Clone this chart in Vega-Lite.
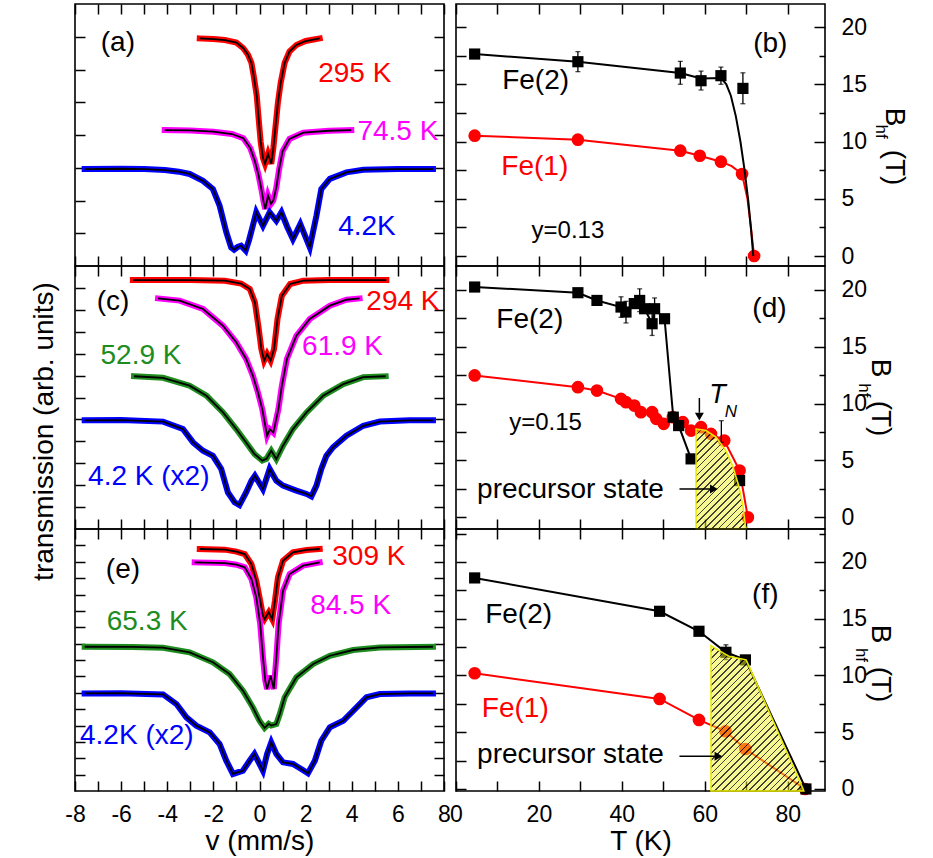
{
"$schema": "https://vega.github.io/schema/vega-lite/v6.json",
"padding": {"left": 29, "top": 2, "right": 5, "bottom": 2},
"config": {
  "font": "Liberation Sans",
  "view": {"stroke": "black", "strokeWidth": 1.6},
  "axis": {"domain": false, "grid": false, "tickSize": -10, "tickWidth": 1.5, "tickColor": "black", "labelFontSize": 23, "labelColor": "black", "labelPadding": 22, "labelOverlap": false, "labelFlush": false, "titleFontSize": 28, "titleFontWeight": "normal", "titleColor": "black", "titlePadding": 1}
},
"columns": 2,
"spacing": {"row": 0, "column": 12},
"bounds": "flush",
"resolve": {"scale": {"color": "independent", "shape": "independent"}},
"datasets": {
  "spec_a": [
    {"s":"r","v":-2.59,"y":6.95},{"s":"r","v":-2.0,"y":6.93},{"s":"r","v":-1.5,"y":6.9},{"s":"r","v":-1.0,"y":6.82},{"s":"r","v":-0.7,"y":6.65},{"s":"r","v":-0.5,"y":6.45},{"s":"r","v":-0.35,"y":6.2},{"s":"r","v":-0.25,"y":5.8},{"s":"r","v":-0.12,"y":5.2},{"s":"r","v":-0.05,"y":4.6},{"s":"r","v":0.05,"y":3.8},{"s":"r","v":0.15,"y":3.3},{"s":"r","v":0.24,"y":3.12},{"s":"r","v":0.37,"y":3.42},{"s":"r","v":0.51,"y":3.12},{"s":"r","v":0.6,"y":3.6},{"s":"r","v":0.7,"y":4.3},{"s":"r","v":0.8,"y":5.0},{"s":"r","v":0.92,"y":5.6},{"s":"r","v":1.09,"y":6.2},{"s":"r","v":1.3,"y":6.55},{"s":"r","v":1.6,"y":6.75},{"s":"r","v":2.0,"y":6.87},{"s":"r","v":2.61,"y":6.95},
    {"s":"m","v":-4.11,"y":4.15},{"s":"m","v":-3.0,"y":4.14},{"s":"m","v":-2.0,"y":4.1},{"s":"m","v":-1.2,"y":4.03},{"s":"m","v":-0.7,"y":3.9},{"s":"m","v":-0.4,"y":3.6},{"s":"m","v":-0.2,"y":3.2},{"s":"m","v":-0.05,"y":2.8},{"s":"m","v":0.08,"y":2.35},{"s":"m","v":0.18,"y":1.95},{"s":"m","v":0.25,"y":1.74},{"s":"m","v":0.37,"y":2.15},{"s":"m","v":0.5,"y":1.9},{"s":"m","v":0.6,"y":2.0},{"s":"m","v":0.73,"y":2.4},{"s":"m","v":0.85,"y":2.95},{"s":"m","v":1.0,"y":3.5},{"s":"m","v":1.3,"y":3.88},{"s":"m","v":1.9,"y":4.07},{"s":"m","v":3.0,"y":4.13},{"s":"m","v":3.98,"y":4.15},
    {"s":"b","v":-7.58,"y":2.96},{"s":"b","v":-6.0,"y":2.97},{"s":"b","v":-5.0,"y":2.96},{"s":"b","v":-4.1,"y":2.93},{"s":"b","v":-3.5,"y":2.88},{"s":"b","v":-3.03,"y":2.81},{"s":"b","v":-2.45,"y":2.6},{"s":"b","v":-2.02,"y":2.35},{"s":"b","v":-1.73,"y":1.84},{"s":"b","v":-1.44,"y":1.03},{"s":"b","v":-1.23,"y":0.57},{"s":"b","v":-1.1,"y":0.5},{"s":"b","v":-0.95,"y":0.58},{"s":"b","v":-0.8,"y":0.62},{"s":"b","v":-0.6,"y":0.47},{"s":"b","v":-0.45,"y":0.8},{"s":"b","v":-0.29,"y":1.23},{"s":"b","v":-0.14,"y":1.64},{"s":"b","v":0.15,"y":1.23},{"s":"b","v":0.44,"y":1.64},{"s":"b","v":0.73,"y":1.38},{"s":"b","v":0.95,"y":1.64},{"s":"b","v":1.2,"y":1.2},{"s":"b","v":1.45,"y":0.82},{"s":"b","v":1.77,"y":1.28},{"s":"b","v":2.18,"y":0.57},{"s":"b","v":2.47,"y":1.54},{"s":"b","v":2.68,"y":2.35},{"s":"b","v":3.05,"y":2.66},{"s":"b","v":3.77,"y":2.86},{"s":"b","v":4.5,"y":2.94},{"s":"b","v":6.0,"y":2.96},{"s":"b","v":7.52,"y":2.96}
  ],
  "spec_c": [
    {"s":"r","v":-5.49,"y":11.36},{"s":"r","v":-3.0,"y":11.36},{"s":"r","v":-1.5,"y":11.33},{"s":"r","v":-0.8,"y":11.2},{"s":"r","v":-0.42,"y":10.95},{"s":"r","v":-0.2,"y":10.34},{"s":"r","v":-0.05,"y":9.27},{"s":"r","v":0.08,"y":8.21},{"s":"r","v":0.2,"y":7.68},{"s":"r","v":0.33,"y":7.98},{"s":"r","v":0.48,"y":7.68},{"s":"r","v":0.63,"y":8.21},{"s":"r","v":0.78,"y":9.58},{"s":"r","v":0.97,"y":10.64},{"s":"r","v":1.33,"y":11.18},{"s":"r","v":1.9,"y":11.33},{"s":"r","v":3.0,"y":11.36},{"s":"r","v":5.5,"y":11.36},
    {"s":"m","v":-4.4,"y":10.52},{"s":"m","v":-3.46,"y":10.42},{"s":"m","v":-2.45,"y":10.04},{"s":"m","v":-1.58,"y":9.27},{"s":"m","v":-1.01,"y":8.52},{"s":"m","v":-0.58,"y":7.76},{"s":"m","v":-0.29,"y":7.0},{"s":"m","v":-0.07,"y":6.24},{"s":"m","v":0.12,"y":5.47},{"s":"m","v":0.25,"y":4.71},{"s":"m","v":0.33,"y":4.26},{"s":"m","v":0.45,"y":4.55},{"s":"m","v":0.6,"y":4.4},{"s":"m","v":0.82,"y":5.47},{"s":"m","v":0.97,"y":6.54},{"s":"m","v":1.19,"y":7.76},{"s":"m","v":1.6,"y":8.82},{"s":"m","v":2.18,"y":9.58},{"s":"m","v":3.05,"y":10.19},{"s":"m","v":3.77,"y":10.46},{"s":"m","v":4.34,"y":10.52},
    {"s":"g","v":-5.44,"y":6.97},{"s":"g","v":-4.18,"y":6.9},{"s":"g","v":-3.03,"y":6.54},{"s":"g","v":-2.3,"y":6.08},{"s":"g","v":-1.58,"y":5.32},{"s":"g","v":-1.01,"y":4.56},{"s":"g","v":-0.58,"y":3.95},{"s":"g","v":-0.22,"y":3.42},{"s":"g","v":0.12,"y":3.12},{"s":"g","v":0.3,"y":3.2},{"s":"g","v":0.51,"y":3.57},{"s":"g","v":0.73,"y":3.19},{"s":"g","v":1.02,"y":3.8},{"s":"g","v":1.45,"y":4.56},{"s":"g","v":2.04,"y":5.32},{"s":"g","v":2.76,"y":6.08},{"s":"g","v":3.63,"y":6.61},{"s":"g","v":4.5,"y":6.93},{"s":"g","v":5.47,"y":6.97},
    {"s":"b","v":-7.58,"y":4.96},{"s":"b","v":-6.0,"y":4.97},{"s":"b","v":-4.18,"y":4.9},{"s":"b","v":-3.32,"y":4.56},{"s":"b","v":-2.88,"y":3.95},{"s":"b","v":-2.45,"y":3.57},{"s":"b","v":-2.02,"y":3.34},{"s":"b","v":-1.66,"y":2.74},{"s":"b","v":-1.37,"y":1.67},{"s":"b","v":-1.08,"y":1.22},{"s":"b","v":-0.87,"y":1.09},{"s":"b","v":-0.58,"y":1.67},{"s":"b","v":-0.35,"y":2.2},{"s":"b","v":-0.2,"y":2.43},{"s":"b","v":0.15,"y":1.82},{"s":"b","v":0.44,"y":2.74},{"s":"b","v":0.73,"y":2.2},{"s":"b","v":1.02,"y":1.98},{"s":"b","v":1.6,"y":1.75},{"s":"b","v":2.04,"y":1.6},{"s":"b","v":2.25,"y":1.49},{"s":"b","v":2.47,"y":1.98},{"s":"b","v":2.68,"y":2.74},{"s":"b","v":2.9,"y":3.34},{"s":"b","v":3.19,"y":3.73},{"s":"b","v":3.77,"y":4.26},{"s":"b","v":4.5,"y":4.71},{"s":"b","v":5.22,"y":4.9},{"s":"b","v":6.5,"y":4.96},{"s":"b","v":7.52,"y":4.96}
  ],
  "spec_e": [
    {"s":"r","v":-2.59,"y":14.78},{"s":"r","v":-1.5,"y":14.74},{"s":"r","v":-1.0,"y":14.62},{"s":"r","v":-0.64,"y":14.47},{"s":"r","v":-0.35,"y":13.86},{"s":"r","v":-0.14,"y":12.84},{"s":"r","v":0.03,"y":11.62},{"s":"r","v":0.15,"y":10.7},{"s":"r","v":0.22,"y":10.5},{"s":"r","v":0.4,"y":10.91},{"s":"r","v":0.55,"y":10.5},{"s":"r","v":0.67,"y":11.62},{"s":"r","v":0.8,"y":13.05},{"s":"r","v":1.02,"y":14.06},{"s":"r","v":1.45,"y":14.58},{"s":"r","v":2.04,"y":14.72},{"s":"r","v":2.61,"y":14.78},
    {"s":"m","v":-2.81,"y":13.96},{"s":"m","v":-1.5,"y":13.92},{"s":"m","v":-1.0,"y":13.82},{"s":"m","v":-0.64,"y":13.66},{"s":"m","v":-0.35,"y":12.95},{"s":"m","v":-0.14,"y":11.83},{"s":"m","v":0.03,"y":10.2},{"s":"m","v":0.15,"y":8.16},{"s":"m","v":0.25,"y":6.74},{"s":"m","v":0.33,"y":6.23},{"s":"m","v":0.48,"y":7.04},{"s":"m","v":0.62,"y":6.23},{"s":"m","v":0.73,"y":8.16},{"s":"m","v":0.83,"y":10.2},{"s":"m","v":1.02,"y":12.23},{"s":"m","v":1.31,"y":13.25},{"s":"m","v":1.89,"y":13.76},{"s":"m","v":2.61,"y":13.96},
    {"s":"g","v":-7.58,"y":8.81},{"s":"g","v":-5.5,"y":8.8},{"s":"g","v":-4.18,"y":8.75},{"s":"g","v":-3.03,"y":8.47},{"s":"g","v":-2.02,"y":7.86},{"s":"g","v":-1.3,"y":7.15},{"s":"g","v":-0.72,"y":6.13},{"s":"g","v":-0.29,"y":5.11},{"s":"g","v":0.0,"y":4.29},{"s":"g","v":0.22,"y":3.85},{"s":"g","v":0.4,"y":4.1},{"s":"g","v":0.51,"y":4.0},{"s":"g","v":0.73,"y":4.09},{"s":"g","v":0.88,"y":4.7},{"s":"g","v":1.09,"y":5.72},{"s":"g","v":1.6,"y":6.94},{"s":"g","v":2.33,"y":7.76},{"s":"g","v":3.05,"y":8.26},{"s":"g","v":4.06,"y":8.61},{"s":"g","v":5.22,"y":8.77},{"s":"g","v":7.52,"y":8.81},
    {"s":"b","v":-7.58,"y":5.96},{"s":"b","v":-6.0,"y":5.97},{"s":"b","v":-4.18,"y":5.9},{"s":"b","v":-3.6,"y":5.31},{"s":"b","v":-3.17,"y":4.5},{"s":"b","v":-2.74,"y":3.99},{"s":"b","v":-2.16,"y":3.58},{"s":"b","v":-1.73,"y":2.87},{"s":"b","v":-1.44,"y":1.85},{"s":"b","v":-1.15,"y":1.04},{"s":"b","v":-0.72,"y":1.24},{"s":"b","v":-0.43,"y":1.85},{"s":"b","v":-0.22,"y":2.26},{"s":"b","v":0.0,"y":1.65},{"s":"b","v":0.15,"y":1.24},{"s":"b","v":0.33,"y":2.26},{"s":"b","v":0.51,"y":2.97},{"s":"b","v":0.73,"y":2.26},{"s":"b","v":1.02,"y":1.75},{"s":"b","v":1.45,"y":1.65},{"s":"b","v":1.81,"y":1.34},{"s":"b","v":2.1,"y":1.08},{"s":"b","v":2.4,"y":1.85},{"s":"b","v":2.68,"y":3.07},{"s":"b","v":3.05,"y":3.89},{"s":"b","v":3.63,"y":4.29},{"s":"b","v":4.06,"y":4.9},{"s":"b","v":4.64,"y":5.72},{"s":"b","v":5.22,"y":5.92},{"s":"b","v":6.5,"y":5.96},{"s":"b","v":7.52,"y":5.96}
  ],
  "lab_a": [{"v":-6.14,"y":6.81,"text":"(a)","s":"k"},{"v":4.13,"y":5.86,"text":"295 K","s":"r"},{"v":6.0,"y":4.1,"text":"74.5 K","s":"m"},{"v":4.66,"y":1.19,"text":"4.2K","s":"b"}],
  "lab_c": [{"v":-6.35,"y":10.36,"text":"(c)","s":"k"},{"v":6.22,"y":10.36,"text":"294 K","s":"r"},{"v":3.6,"y":8.3,"text":"61.9 K","s":"m"},{"v":-5.14,"y":7.9,"text":"52.9 K","s":"g"},{"v":-4.8,"y":2.37,"text":"4.2 K (x2)","s":"b"}],
  "lab_e": [{"v":-5.92,"y":13.5,"text":"(e)","s":"k"},{"v":4.74,"y":14.32,"text":"309 K","s":"r"},{"v":3.95,"y":11.3,"text":"84.5 K","s":"m"},{"v":-4.87,"y":10.3,"text":"65.3 K","s":"g"},{"v":-5.32,"y":3.38,"text":"4.2K (x2)","s":"b"}],
  "fit_b": [
    {"site":1,"T":4.5,"B":10.51},{"site":1,"T":29.4,"B":10.16},{"site":1,"T":54.1,"B":9.2},{"site":1,"T":58.8,"B":8.76},{"site":1,"T":63.9,"B":8.24},{"site":1,"T":66.5,"B":7.85},{"site":1,"T":69.0,"B":7.16},{"site":1,"T":70.3,"B":5.0},{"site":1,"T":71.1,"B":2.6},{"site":1,"T":71.9,"B":0.0},
    {"site":2,"T":4.5,"B":17.64},{"site":2,"T":29.4,"B":16.97},{"site":2,"T":54.1,"B":15.98},{"site":2,"T":59.1,"B":15.5},{"site":2,"T":63.9,"B":15.55},{"site":2,"T":65.2,"B":15.0},{"site":2,"T":66.3,"B":14.0},{"site":2,"T":67.5,"B":12.2},{"site":2,"T":68.6,"B":10.0},{"site":2,"T":69.6,"B":7.5},{"site":2,"T":70.5,"B":4.8},{"site":2,"T":71.2,"B":2.2},{"site":2,"T":71.7,"B":0.0}
  ],
  "pts_b": [
    {"site":1,"T":4.5,"B":10.51},{"site":1,"T":29.4,"B":10.16},{"site":1,"T":54.1,"B":9.2},{"site":1,"T":58.8,"B":8.76},{"site":1,"T":63.9,"B":8.24},{"site":1,"T":69.0,"B":7.16},{"site":1,"T":71.9,"B":0.0},
    {"site":2,"T":4.5,"B":17.64},{"site":2,"T":29.4,"B":16.97},{"site":2,"T":54.1,"B":15.98},{"site":2,"T":59.1,"B":15.31},{"site":2,"T":63.9,"B":15.75},{"site":2,"T":69.2,"B":14.64}
  ],
  "err_b": [{"T":29.4,"lo":16.1,"hi":17.85},{"T":54.1,"lo":15.0,"hi":17.0},{"T":59.1,"lo":14.5,"hi":16.15},{"T":63.9,"lo":15.0,"hi":16.5},{"T":69.2,"lo":13.3,"hi":16.0}],
  "txt_b": [{"T":75.8,"B":18.56,"text":"(b)","s":"k"},{"T":19.2,"B":15.3,"text":"Fe(2)","s":"k"},{"T":19.0,"B":7.77,"text":"Fe(1)","s":"r"}],
  "note_b": [{"T":27.0,"B":2.21,"text":"y=0.13"}],
  "hf_b": [{"T":102.6,"B":10.87,"text":"hf"}],
  "fe_d": [
    {"site":1,"T":4.5,"B":12.48},{"site":1,"T":29.4,"B":11.45},{"site":1,"T":34.0,"B":11.15},{"site":1,"T":39.8,"B":10.42},{"site":1,"T":41.0,"B":10.13},{"site":1,"T":43.0,"B":9.83},{"site":1,"T":44.6,"B":9.25},{"site":1,"T":47.3,"B":9.25},{"site":1,"T":48.3,"B":8.66},{"site":1,"T":50.1,"B":8.22},{"site":1,"T":52.3,"B":8.81},{"site":1,"T":54.7,"B":8.37},{"site":1,"T":56.7,"B":7.63},{"site":1,"T":59.1,"B":7.93},{"site":1,"T":61.5,"B":7.34},{"site":1,"T":64.7,"B":6.75},{"site":1,"T":68.4,"B":4.11},{"site":1,"T":70.4,"B":0.0},
    {"site":2,"T":4.5,"B":20.26},{"site":2,"T":29.4,"B":19.76},{"site":2,"T":34.0,"B":19.08},{"site":2,"T":39.8,"B":18.5},{"site":2,"T":41.0,"B":18.06},{"site":2,"T":43.0,"B":18.8},{"site":2,"T":44.3,"B":19.08},{"site":2,"T":45.5,"B":18.35},{"site":2,"T":47.3,"B":17.03},{"site":2,"T":47.9,"B":18.35},{"site":2,"T":50.3,"B":17.47},{"site":2,"T":52.4,"B":8.81},{"site":2,"T":53.7,"B":8.07},{"site":2,"T":56.7,"B":5.14},{"site":2,"T":68.4,"B":3.23}
  ],
  "err_d": [{"T":39.8,"lo":17.6,"hi":19.4},{"T":41.0,"lo":17.1,"hi":19.0},{"T":44.3,"lo":18.1,"hi":20.1},{"T":47.3,"lo":16.0,"hi":18.0},{"T":47.9,"lo":17.4,"hi":19.3},{"T":64.0,"lo":6.6,"hi":8.5}],
  "hatch_d": [{"T":57.9,"B":7.78},{"T":60.3,"B":7.63},{"T":62.7,"B":7.05},{"T":65.1,"B":5.87},{"T":66.7,"B":4.55},{"T":68.2,"B":2.78},{"T":69.2,"B":1.02},{"T":69.8,"B":-0.74},{"T":70.0,"B":-1.03}],
  "txt_d": [{"T":75.6,"B":18.35,"text":"(d)","s":"k"},{"T":17.8,"B":17.32,"text":"Fe(2)","s":"k"},{"T":27.6,"B":2.4,"text":"precursor state","s":"k"}],
  "note_d": [{"T":21.6,"B":8.31,"text":"y=0.15"}],
  "tn_d": [{"T":63.1,"B":10.8,"text":"T"}],
  "tnsub_d": [{"T":66.3,"B":9.27,"text":"N"}],
  "arr_d": [{"T":53.9,"T2":61.5,"B":2.49,"B2":2.49},{"T":58.7,"T2":58.7,"B":10.5,"B2":9.2}],
  "head_d": [{"T":62.2,"B":2.49,"dir":"right"},{"T":58.7,"B":8.85,"dir":"down"}],
  "hf_d": [{"T":98.4,"B":11.16,"text":"hf"}],
  "fe_f": [
    {"site":1,"T":4.5,"B":10.19},{"site":1,"T":49.1,"B":7.93},{"site":1,"T":58.6,"B":6.08},{"site":1,"T":65.0,"B":5.08},{"site":1,"T":69.8,"B":3.52},{"site":1,"T":84.2,"B":0.0},
    {"site":2,"T":4.5,"B":18.59},{"site":2,"T":49.1,"B":15.65},{"site":2,"T":58.6,"B":13.89},{"site":2,"T":65.1,"B":12.04},{"site":2,"T":69.8,"B":11.37},{"site":2,"T":84.4,"B":0.0}
  ],
  "err_f": [{"T":65.1,"lo":11.4,"hi":12.7}],
  "hatch_f": [{"T":61.5,"B":12.63},{"T":63.5,"B":12.19},{"T":66.0,"B":11.66},{"T":70.0,"B":11.37},{"T":83.6,"B":0.1},{"T":83.9,"B":-0.18}],
  "txt_f": [{"T":74.6,"B":17.1,"text":"(f)","s":"k"},{"T":15.1,"B":15.33,"text":"Fe(2)","s":"k"},{"T":14.3,"B":7.05,"text":"Fe(1)","s":"r"},{"T":27.6,"B":3.0,"text":"precursor state","s":"k"}],
  "arr_f": [{"T":53.9,"T2":62.6,"B":2.88,"B2":2.88}],
  "head_f": [{"T":63.3,"B":2.88,"dir":"right"}],
  "hf_f": [{"T":97.6,"B":11.8,"text":"hf"}]
},
"concat": [
  {"width":369,"height":262,
   "layer":[
    {"data":{"name":"spec_a"},"mark":{"type":"line","strokeWidth":6,"strokeCap":"square"},
     "encoding":{
      "x":{"field":"v","type":"quantitative","scale":{"domain":[-8,8],"nice":false,"zero":false},"axis":{"orient":"bottom","values":[-8,-7,-6,-5,-4,-3,-2,-1,0,1,2,3,4,5,6,7,8],"labels":false,"title":null}},
      "y":{"field":"y","type":"quantitative","scale":{"domain":[0,8],"nice":false,"zero":false},"axis":{"orient":"left","values":[1,2,3,4,5,6,7],"labels":false,"title":null}},
      "color":{"field":"s","type":"nominal","scale":{"domain":["r","m","g","b","k"],"range":["#ff0000","#ff00ff","#1e8c1e","#0000ff","#000000"]},"legend":null}}},
    {"data":{"name":"spec_a"},"mark":{"type":"line","strokeWidth":1.8,"color":"black"},
     "encoding":{
      "x":{"field":"v","type":"quantitative","scale":{"domain":[-8,8],"nice":false,"zero":false},"axis":{"orient":"top","values":[-8,-7,-6,-5,-4,-3,-2,-1,0,1,2,3,4,5,6,7,8],"labels":false,"title":null}},
      "y":{"field":"y","type":"quantitative","scale":{"domain":[0,8],"nice":false,"zero":false},"axis":{"orient":"right","values":[1,2,3,4,5,6,7],"labels":false,"title":null}},
      "detail":{"field":"s","type":"nominal"}}},
    {"data":{"name":"lab_a"},"mark":{"type":"text","fontSize":28},
     "encoding":{
      "x":{"field":"v","type":"quantitative","scale":{"domain":[-8,8],"nice":false,"zero":false},"axis":null},
      "y":{"field":"y","type":"quantitative","scale":{"domain":[0,8],"nice":false,"zero":false},"axis":null},
      "text":{"field":"text","type":"nominal"},
      "color":{"field":"s","type":"nominal","scale":{"domain":["r","m","g","b","k"],"range":["#ff0000","#ff00ff","#1e8c1e","#0000ff","#000000"]},"legend":null}}}
   ],
   "resolve":{"axis":{"x":"independent","y":"independent"}}},
  {"width":369,"height":262,
   "layer":[
    {"data":{"name":"fit_b"},"transform":[{"filter":"datum.site == 1"}],"mark":{"type":"line","color":"#ff0000","strokeWidth":2},
     "encoding":{
      "x":{"field":"T","type":"quantitative","scale":{"domain":[0,89],"nice":false,"zero":false},"axis":{"orient":"bottom","values":[0,10,20,30,40,50,60,70,80],"labels":false,"title":null}},
      "y":{"field":"B","type":"quantitative","scale":{"domain":[-0.87,22.01],"nice":false,"zero":false},"axis":{"orient":"left","values":[0,2.5,5,7.5,10,12.5,15,17.5,20],"labels":false,"title":null}}}},
    {"data":{"name":"pts_b"},"transform":[{"filter":"datum.site == 1"}],"mark":{"type":"circle","color":"#ff0000","size":160,"opacity":1},
     "encoding":{
      "x":{"field":"T","type":"quantitative","scale":{"domain":[0,89],"nice":false,"zero":false},"axis":{"orient":"top","values":[0,10,20,30,40,50,60,70,80],"labels":false,"title":null}},
      "y":{"field":"B","type":"quantitative","scale":{"domain":[-0.87,22.01],"nice":false,"zero":false},"axis":{"orient":"right","values":[0,5,10,15,20],"tickSize":-11,"labelPadding":27,"title":"B\u00a0\u00a0\u00a0(T)","titleX":60,"titleY":142,"titleAngle":90,"titleAlign":"center","titleBaseline":"alphabetic"}}}},
    {"data":{"name":"fit_b"},"transform":[{"filter":"datum.site == 2"}],"mark":{"type":"line","color":"black","strokeWidth":2},
     "encoding":{
      "x":{"field":"T","type":"quantitative","scale":{"domain":[0,89],"nice":false,"zero":false},"axis":null},
      "y":{"field":"B","type":"quantitative","scale":{"domain":[-0.87,22.01],"nice":false,"zero":false},"axis":{"orient":"right","values":[2.5,7.5,12.5,17.5],"tickSize":-6,"labels":false,"title":null}}}},
    {"data":{"name":"pts_b"},"transform":[{"filter":"datum.site == 2"}],"mark":{"type":"square","color":"black","size":125,"opacity":1},
     "encoding":{
      "x":{"field":"T","type":"quantitative","scale":{"domain":[0,89],"nice":false,"zero":false},"axis":null},
      "y":{"field":"B","type":"quantitative","scale":{"domain":[-0.87,22.01],"nice":false,"zero":false},"axis":null}}},
    {"data":{"name":"err_b"},"mark":{"type":"errorbar","ticks":true,"color":"black","thickness":1.3},
     "encoding":{
      "x":{"field":"T","type":"quantitative","scale":{"domain":[0,89],"nice":false,"zero":false},"axis":null},
      "y":{"field":"lo","type":"quantitative","scale":{"domain":[-0.87,22.01],"nice":false,"zero":false},"axis":null},
      "y2":{"field":"hi"}}},
    {"data":{"name":"txt_b"},"mark":{"type":"text","fontSize":28},
     "encoding":{
      "x":{"field":"T","type":"quantitative","scale":{"domain":[0,89],"nice":false,"zero":false},"axis":null},
      "y":{"field":"B","type":"quantitative","scale":{"domain":[-0.87,22.01],"nice":false,"zero":false},"axis":null},
      "text":{"field":"text","type":"nominal"},
      "color":{"field":"s","type":"nominal","scale":{"domain":["r","m","g","b","k"],"range":["#ff0000","#ff00ff","#1e8c1e","#0000ff","#000000"]},"legend":null}}},
    {"data":{"name":"note_b"},"mark":{"type":"text","fontSize":24,"color":"black"},
     "encoding":{
      "x":{"field":"T","type":"quantitative","scale":{"domain":[0,89],"nice":false,"zero":false},"axis":null},
      "y":{"field":"B","type":"quantitative","scale":{"domain":[-0.87,22.01],"nice":false,"zero":false},"axis":null},
      "text":{"field":"text","type":"nominal"}}},
    {"data":{"name":"hf_b"},"mark":{"type":"text","fontSize":17,"angle":90,"color":"black"},
     "encoding":{
      "x":{"field":"T","type":"quantitative","scale":{"domain":[0,89],"nice":false,"zero":false},"axis":null},
      "y":{"field":"B","type":"quantitative","scale":{"domain":[-0.87,22.01],"nice":false,"zero":false},"axis":null},
      "text":{"field":"text","type":"nominal"}}}
   ],
   "resolve":{"axis":{"x":"independent","y":"independent"}}},
  {"width":369,"height":263,
   "layer":[
    {"data":{"name":"spec_c"},"mark":{"type":"line","strokeWidth":6,"strokeCap":"square"},
     "encoding":{
      "x":{"field":"v","type":"quantitative","scale":{"domain":[-8,8],"nice":false,"zero":false},"axis":{"orient":"bottom","values":[-8,-7,-6,-5,-4,-3,-2,-1,0,1,2,3,4,5,6,7,8],"labels":false,"title":null}},
      "y":{"field":"y","type":"quantitative","scale":{"domain":[0,12],"nice":false,"zero":false},"axis":{"orient":"left","values":[1,2,3,4,5,6,7,8,9,10,11],"labels":false,"title":"transmission (arb. units)","titleX":-23,"titleY":165,"titleAngle":270,"titleAlign":"center","titleBaseline":"alphabetic"}},
      "color":{"field":"s","type":"nominal","scale":{"domain":["r","m","g","b","k"],"range":["#ff0000","#ff00ff","#1e8c1e","#0000ff","#000000"]},"legend":null}}},
    {"data":{"name":"spec_c"},"mark":{"type":"line","strokeWidth":1.8,"color":"black"},
     "encoding":{
      "x":{"field":"v","type":"quantitative","scale":{"domain":[-8,8],"nice":false,"zero":false},"axis":{"orient":"top","values":[-8,-7,-6,-5,-4,-3,-2,-1,0,1,2,3,4,5,6,7,8],"labels":false,"title":null}},
      "y":{"field":"y","type":"quantitative","scale":{"domain":[0,12],"nice":false,"zero":false},"axis":{"orient":"right","values":[1,2,3,4,5,6,7,8,9,10,11],"labels":false,"title":null}},
      "detail":{"field":"s","type":"nominal"}}},
    {"data":{"name":"lab_c"},"mark":{"type":"text","fontSize":28},
     "encoding":{
      "x":{"field":"v","type":"quantitative","scale":{"domain":[-8,8],"nice":false,"zero":false},"axis":null},
      "y":{"field":"y","type":"quantitative","scale":{"domain":[0,12],"nice":false,"zero":false},"axis":null},
      "text":{"field":"text","type":"nominal"},
      "color":{"field":"s","type":"nominal","scale":{"domain":["r","m","g","b","k"],"range":["#ff0000","#ff00ff","#1e8c1e","#0000ff","#000000"]},"legend":null}}}
   ],
   "resolve":{"axis":{"x":"independent","y":"independent"}}},
  {"width":369,"height":263,
   "layer":[
    {"data":{"name":"fe_d"},"transform":[{"filter":"datum.site == 1"}],"mark":{"type":"line","color":"#ff0000","strokeWidth":2},
     "encoding":{
      "x":{"field":"T","type":"quantitative","scale":{"domain":[0,89],"nice":false,"zero":false},"axis":{"orient":"bottom","values":[0,10,20,30,40,50,60,70,80],"labels":false,"title":null}},
      "y":{"field":"B","type":"quantitative","scale":{"domain":[-1.03,22.11],"nice":false,"zero":false},"axis":{"orient":"left","values":[0,2.5,5,7.5,10,12.5,15,17.5,20],"labels":false,"title":null}}}},
    {"data":{"name":"fe_d"},"transform":[{"filter":"datum.site == 1"}],"mark":{"type":"circle","color":"#ff0000","size":160,"opacity":1},
     "encoding":{
      "x":{"field":"T","type":"quantitative","scale":{"domain":[0,89],"nice":false,"zero":false},"axis":{"orient":"top","values":[0,10,20,30,40,50,60,70,80],"labels":false,"title":null}},
      "y":{"field":"B","type":"quantitative","scale":{"domain":[-1.03,22.11],"nice":false,"zero":false},"axis":{"orient":"right","values":[0,5,10,15,20],"tickSize":-11,"labelPadding":27,"title":"B\u00a0\u00a0\u00a0(T)","titleX":46,"titleY":131,"titleAngle":90,"titleAlign":"center","titleBaseline":"alphabetic"}}}},
    {"data":{"name":"fe_d"},"transform":[{"filter":"datum.site == 2 && datum.T < 60"}],"mark":{"type":"line","color":"black","strokeWidth":2},
     "encoding":{
      "x":{"field":"T","type":"quantitative","scale":{"domain":[0,89],"nice":false,"zero":false},"axis":null},
      "y":{"field":"B","type":"quantitative","scale":{"domain":[-1.03,22.11],"nice":false,"zero":false},"axis":{"orient":"right","values":[2.5,7.5,12.5,17.5],"tickSize":-6,"labels":false,"title":null}}}},
    {"data":{"name":"fe_d"},"transform":[{"filter":"datum.site == 2"}],"mark":{"type":"square","color":"black","size":125,"opacity":1},
     "encoding":{
      "x":{"field":"T","type":"quantitative","scale":{"domain":[0,89],"nice":false,"zero":false},"axis":null},
      "y":{"field":"B","type":"quantitative","scale":{"domain":[-1.03,22.11],"nice":false,"zero":false},"axis":null}}},
    {"data":{"name":"err_d"},"mark":{"type":"errorbar","ticks":true,"color":"black","thickness":1.3},
     "encoding":{
      "x":{"field":"T","type":"quantitative","scale":{"domain":[0,89],"nice":false,"zero":false},"axis":null},
      "y":{"field":"lo","type":"quantitative","scale":{"domain":[-1.03,22.11],"nice":false,"zero":false},"axis":null},
      "y2":{"field":"hi"}}},
    {"data":{"name":"hatch_d"},"mark":{"type":"area","stroke":"#e8e800","strokeWidth":1.5,"fill":{"gradient":"linear","x1":0,"y1":0,"x2":0.6017,"y2":1.1998,"stops":[
      {"offset":0,"color":"rgba(240,240,40,0.5)"},{"offset":0.0341,"color":"rgba(240,240,40,0.5)"},{"offset":0.0341,"color":"rgba(20,20,0,0.8)"},{"offset":0.0455,"color":"rgba(20,20,0,0.8)"},
      {"offset":0.0455,"color":"rgba(240,240,40,0.5)"},{"offset":0.0795,"color":"rgba(240,240,40,0.5)"},{"offset":0.0795,"color":"rgba(20,20,0,0.8)"},{"offset":0.0909,"color":"rgba(20,20,0,0.8)"},
      {"offset":0.0909,"color":"rgba(240,240,40,0.5)"},{"offset":0.125,"color":"rgba(240,240,40,0.5)"},{"offset":0.125,"color":"rgba(20,20,0,0.8)"},{"offset":0.1364,"color":"rgba(20,20,0,0.8)"},
      {"offset":0.1364,"color":"rgba(240,240,40,0.5)"},{"offset":0.1705,"color":"rgba(240,240,40,0.5)"},{"offset":0.1705,"color":"rgba(20,20,0,0.8)"},{"offset":0.1818,"color":"rgba(20,20,0,0.8)"},
      {"offset":0.1818,"color":"rgba(240,240,40,0.5)"},{"offset":0.2159,"color":"rgba(240,240,40,0.5)"},{"offset":0.2159,"color":"rgba(20,20,0,0.8)"},{"offset":0.2273,"color":"rgba(20,20,0,0.8)"},
      {"offset":0.2273,"color":"rgba(240,240,40,0.5)"},{"offset":0.2614,"color":"rgba(240,240,40,0.5)"},{"offset":0.2614,"color":"rgba(20,20,0,0.8)"},{"offset":0.2727,"color":"rgba(20,20,0,0.8)"},
      {"offset":0.2727,"color":"rgba(240,240,40,0.5)"},{"offset":0.3068,"color":"rgba(240,240,40,0.5)"},{"offset":0.3068,"color":"rgba(20,20,0,0.8)"},{"offset":0.3182,"color":"rgba(20,20,0,0.8)"},
      {"offset":0.3182,"color":"rgba(240,240,40,0.5)"},{"offset":0.3523,"color":"rgba(240,240,40,0.5)"},{"offset":0.3523,"color":"rgba(20,20,0,0.8)"},{"offset":0.3636,"color":"rgba(20,20,0,0.8)"},
      {"offset":0.3636,"color":"rgba(240,240,40,0.5)"},{"offset":0.3977,"color":"rgba(240,240,40,0.5)"},{"offset":0.3977,"color":"rgba(20,20,0,0.8)"},{"offset":0.4091,"color":"rgba(20,20,0,0.8)"},
      {"offset":0.4091,"color":"rgba(240,240,40,0.5)"},{"offset":0.4432,"color":"rgba(240,240,40,0.5)"},{"offset":0.4432,"color":"rgba(20,20,0,0.8)"},{"offset":0.4545,"color":"rgba(20,20,0,0.8)"},
      {"offset":0.4545,"color":"rgba(240,240,40,0.5)"},{"offset":0.4886,"color":"rgba(240,240,40,0.5)"},{"offset":0.4886,"color":"rgba(20,20,0,0.8)"},{"offset":0.5,"color":"rgba(20,20,0,0.8)"},
      {"offset":0.5,"color":"rgba(240,240,40,0.5)"},{"offset":0.5341,"color":"rgba(240,240,40,0.5)"},{"offset":0.5341,"color":"rgba(20,20,0,0.8)"},{"offset":0.5455,"color":"rgba(20,20,0,0.8)"},
      {"offset":0.5455,"color":"rgba(240,240,40,0.5)"},{"offset":0.5795,"color":"rgba(240,240,40,0.5)"},{"offset":0.5795,"color":"rgba(20,20,0,0.8)"},{"offset":0.5909,"color":"rgba(20,20,0,0.8)"},
      {"offset":0.5909,"color":"rgba(240,240,40,0.5)"},{"offset":0.625,"color":"rgba(240,240,40,0.5)"},{"offset":0.625,"color":"rgba(20,20,0,0.8)"},{"offset":0.6364,"color":"rgba(20,20,0,0.8)"},
      {"offset":0.6364,"color":"rgba(240,240,40,0.5)"},{"offset":0.6705,"color":"rgba(240,240,40,0.5)"},{"offset":0.6705,"color":"rgba(20,20,0,0.8)"},{"offset":0.6818,"color":"rgba(20,20,0,0.8)"},
      {"offset":0.6818,"color":"rgba(240,240,40,0.5)"},{"offset":0.7159,"color":"rgba(240,240,40,0.5)"},{"offset":0.7159,"color":"rgba(20,20,0,0.8)"},{"offset":0.7273,"color":"rgba(20,20,0,0.8)"},
      {"offset":0.7273,"color":"rgba(240,240,40,0.5)"},{"offset":0.7614,"color":"rgba(240,240,40,0.5)"},{"offset":0.7614,"color":"rgba(20,20,0,0.8)"},{"offset":0.7727,"color":"rgba(20,20,0,0.8)"},
      {"offset":0.7727,"color":"rgba(240,240,40,0.5)"},{"offset":0.8068,"color":"rgba(240,240,40,0.5)"},{"offset":0.8068,"color":"rgba(20,20,0,0.8)"},{"offset":0.8182,"color":"rgba(20,20,0,0.8)"},
      {"offset":0.8182,"color":"rgba(240,240,40,0.5)"},{"offset":0.8523,"color":"rgba(240,240,40,0.5)"},{"offset":0.8523,"color":"rgba(20,20,0,0.8)"},{"offset":0.8636,"color":"rgba(20,20,0,0.8)"},
      {"offset":0.8636,"color":"rgba(240,240,40,0.5)"},{"offset":0.8977,"color":"rgba(240,240,40,0.5)"},{"offset":0.8977,"color":"rgba(20,20,0,0.8)"},{"offset":0.9091,"color":"rgba(20,20,0,0.8)"},
      {"offset":0.9091,"color":"rgba(240,240,40,0.5)"},{"offset":0.9432,"color":"rgba(240,240,40,0.5)"},{"offset":0.9432,"color":"rgba(20,20,0,0.8)"},{"offset":0.9545,"color":"rgba(20,20,0,0.8)"},
      {"offset":0.9545,"color":"rgba(240,240,40,0.5)"},{"offset":0.9886,"color":"rgba(240,240,40,0.5)"},{"offset":0.9886,"color":"rgba(20,20,0,0.8)"},{"offset":1,"color":"rgba(20,20,0,0.8)"}
     ]}},
     "encoding":{
      "x":{"field":"T","type":"quantitative","scale":{"domain":[0,89],"nice":false,"zero":false},"axis":null},
      "y":{"field":"B","type":"quantitative","scale":{"domain":[-1.03,22.11],"nice":false,"zero":false},"axis":null},
      "y2":{"datum":-1.03}}},
    {"data":{"name":"arr_d"},"mark":{"type":"rule","color":"black","strokeWidth":1.5},
     "encoding":{
      "x":{"field":"T","type":"quantitative","scale":{"domain":[0,89],"nice":false,"zero":false},"axis":null},
      "x2":{"field":"T2"},
      "y":{"field":"B","type":"quantitative","scale":{"domain":[-1.03,22.11],"nice":false,"zero":false},"axis":null},
      "y2":{"field":"B2"}}},
    {"data":{"name":"head_d"},"mark":{"type":"point","filled":true,"color":"black","size":80,"opacity":1},
     "encoding":{
      "x":{"field":"T","type":"quantitative","scale":{"domain":[0,89],"nice":false,"zero":false},"axis":null},
      "y":{"field":"B","type":"quantitative","scale":{"domain":[-1.03,22.11],"nice":false,"zero":false},"axis":null},
      "shape":{"field":"dir","type":"nominal","scale":{"domain":["right","down"],"range":["triangle-right","triangle-down"]},"legend":null}}},
    {"data":{"name":"txt_d"},"mark":{"type":"text","fontSize":28},
     "encoding":{
      "x":{"field":"T","type":"quantitative","scale":{"domain":[0,89],"nice":false,"zero":false},"axis":null},
      "y":{"field":"B","type":"quantitative","scale":{"domain":[-1.03,22.11],"nice":false,"zero":false},"axis":null},
      "text":{"field":"text","type":"nominal"},
      "color":{"field":"s","type":"nominal","scale":{"domain":["r","m","g","b","k"],"range":["#ff0000","#ff00ff","#1e8c1e","#0000ff","#000000"]},"legend":null}}},
    {"data":{"name":"note_d"},"mark":{"type":"text","fontSize":24,"color":"black"},
     "encoding":{
      "x":{"field":"T","type":"quantitative","scale":{"domain":[0,89],"nice":false,"zero":false},"axis":null},
      "y":{"field":"B","type":"quantitative","scale":{"domain":[-1.03,22.11],"nice":false,"zero":false},"axis":null},
      "text":{"field":"text","type":"nominal"}}},
    {"data":{"name":"tn_d"},"mark":{"type":"text","fontSize":27,"fontStyle":"italic","color":"black"},
     "encoding":{
      "x":{"field":"T","type":"quantitative","scale":{"domain":[0,89],"nice":false,"zero":false},"axis":null},
      "y":{"field":"B","type":"quantitative","scale":{"domain":[-1.03,22.11],"nice":false,"zero":false},"axis":null},
      "text":{"field":"text","type":"nominal"}}},
    {"data":{"name":"tnsub_d"},"mark":{"type":"text","fontSize":17,"fontStyle":"italic","color":"black"},
     "encoding":{
      "x":{"field":"T","type":"quantitative","scale":{"domain":[0,89],"nice":false,"zero":false},"axis":null},
      "y":{"field":"B","type":"quantitative","scale":{"domain":[-1.03,22.11],"nice":false,"zero":false},"axis":null},
      "text":{"field":"text","type":"nominal"}}},
    {"data":{"name":"hf_d"},"mark":{"type":"text","fontSize":17,"angle":90,"color":"black"},
     "encoding":{
      "x":{"field":"T","type":"quantitative","scale":{"domain":[0,89],"nice":false,"zero":false},"axis":null},
      "y":{"field":"B","type":"quantitative","scale":{"domain":[-1.03,22.11],"nice":false,"zero":false},"axis":null},
      "text":{"field":"text","type":"nominal"}}}
   ],
   "resolve":{"axis":{"x":"independent","y":"independent"}}},
  {"width":369,"height":262,
   "layer":[
    {"data":{"name":"spec_e"},"mark":{"type":"line","strokeWidth":6,"strokeCap":"square"},
     "encoding":{
      "x":{"field":"v","type":"quantitative","scale":{"domain":[-8,8],"nice":false,"zero":false},"axis":{"orient":"bottom","values":[-8,-7,-6,-5,-4,-3,-2,-1,0,1,2,3,4,5,6,7,8],"labels":true,"labelExpr":"datum.value % 2 == 0 ? '' + datum.value : ''","title":"v (mm/s)"}},
      "y":{"field":"y","type":"quantitative","scale":{"domain":[0,16],"nice":false,"zero":false},"axis":{"orient":"left","values":[1,2,3,4,5,6,7,8,9,10,11,12,13,14,15],"labels":false,"title":null}},
      "color":{"field":"s","type":"nominal","scale":{"domain":["r","m","g","b","k"],"range":["#ff0000","#ff00ff","#1e8c1e","#0000ff","#000000"]},"legend":null}}},
    {"data":{"name":"spec_e"},"mark":{"type":"line","strokeWidth":1.8,"color":"black"},
     "encoding":{
      "x":{"field":"v","type":"quantitative","scale":{"domain":[-8,8],"nice":false,"zero":false},"axis":{"orient":"top","values":[-8,-7,-6,-5,-4,-3,-2,-1,0,1,2,3,4,5,6,7,8],"labels":false,"title":null}},
      "y":{"field":"y","type":"quantitative","scale":{"domain":[0,16],"nice":false,"zero":false},"axis":{"orient":"right","values":[1,2,3,4,5,6,7,8,9,10,11,12,13,14,15],"labels":false,"title":null}},
      "detail":{"field":"s","type":"nominal"}}},
    {"data":{"name":"lab_e"},"mark":{"type":"text","fontSize":28},
     "encoding":{
      "x":{"field":"v","type":"quantitative","scale":{"domain":[-8,8],"nice":false,"zero":false},"axis":null},
      "y":{"field":"y","type":"quantitative","scale":{"domain":[0,16],"nice":false,"zero":false},"axis":null},
      "text":{"field":"text","type":"nominal"},
      "color":{"field":"s","type":"nominal","scale":{"domain":["r","m","g","b","k"],"range":["#ff0000","#ff00ff","#1e8c1e","#0000ff","#000000"]},"legend":null}}}
   ],
   "resolve":{"axis":{"x":"independent","y":"independent"}}},
  {"width":369,"height":262,
   "layer":[
    {"data":{"name":"fe_f"},"transform":[{"filter":"datum.site == 1"}],"mark":{"type":"line","color":"#ff0000","strokeWidth":2},
     "encoding":{
      "x":{"field":"T","type":"quantitative","scale":{"domain":[0,89],"nice":false,"zero":false},"axis":{"orient":"bottom","values":[0,10,20,30,40,50,60,70,80],"labels":true,"labelExpr":"datum.value % 20 == 0 ? datum.label : ''","title":"T (K)"}},
      "y":{"field":"B","type":"quantitative","scale":{"domain":[-0.18,22.9],"nice":false,"zero":false},"axis":{"orient":"left","values":[0,2.5,5,7.5,10,12.5,15,17.5,20,22.5],"labels":false,"title":null}}}},
    {"data":{"name":"fe_f"},"transform":[{"filter":"datum.site == 1"}],"mark":{"type":"circle","color":"#ff0000","size":160,"opacity":1},
     "encoding":{
      "x":{"field":"T","type":"quantitative","scale":{"domain":[0,89],"nice":false,"zero":false},"axis":{"orient":"top","values":[0,10,20,30,40,50,60,70,80],"labels":false,"title":null}},
      "y":{"field":"B","type":"quantitative","scale":{"domain":[-0.18,22.9],"nice":false,"zero":false},"axis":{"orient":"right","values":[0,5,10,15,20],"tickSize":-11,"labelPadding":27,"title":"B\u00a0\u00a0\u00a0(T)","titleX":46,"titleY":134,"titleAngle":90,"titleAlign":"center","titleBaseline":"alphabetic"}}}},
    {"data":{"name":"fe_f"},"transform":[{"filter":"datum.site == 2"}],"mark":{"type":"line","color":"black","strokeWidth":2},
     "encoding":{
      "x":{"field":"T","type":"quantitative","scale":{"domain":[0,89],"nice":false,"zero":false},"axis":null},
      "y":{"field":"B","type":"quantitative","scale":{"domain":[-0.18,22.9],"nice":false,"zero":false},"axis":{"orient":"right","values":[2.5,7.5,12.5,17.5,22.5],"tickSize":-6,"labels":false,"title":null}}}},
    {"data":{"name":"fe_f"},"transform":[{"filter":"datum.site == 2"}],"mark":{"type":"square","color":"black","size":125,"opacity":1},
     "encoding":{
      "x":{"field":"T","type":"quantitative","scale":{"domain":[0,89],"nice":false,"zero":false},"axis":null},
      "y":{"field":"B","type":"quantitative","scale":{"domain":[-0.18,22.9],"nice":false,"zero":false},"axis":null}}},
    {"data":{"name":"err_f"},"mark":{"type":"errorbar","ticks":true,"color":"black","thickness":1.3},
     "encoding":{
      "x":{"field":"T","type":"quantitative","scale":{"domain":[0,89],"nice":false,"zero":false},"axis":null},
      "y":{"field":"lo","type":"quantitative","scale":{"domain":[-0.18,22.9],"nice":false,"zero":false},"axis":null},
      "y2":{"field":"hi"}}},
    {"data":{"name":"hatch_f"},"mark":{"type":"area","stroke":"#e8e800","strokeWidth":1.5,"fill":{"gradient":"linear","x1":0,"y1":0,"x2":0.7436,"y2":1.1638,"stops":[
      {"offset":0,"color":"rgba(240,240,40,0.5)"},{"offset":0.0214,"color":"rgba(240,240,40,0.5)"},{"offset":0.0214,"color":"rgba(20,20,0,0.8)"},{"offset":0.0286,"color":"rgba(20,20,0,0.8)"},
      {"offset":0.0286,"color":"rgba(240,240,40,0.5)"},{"offset":0.05,"color":"rgba(240,240,40,0.5)"},{"offset":0.05,"color":"rgba(20,20,0,0.8)"},{"offset":0.0571,"color":"rgba(20,20,0,0.8)"},
      {"offset":0.0571,"color":"rgba(240,240,40,0.5)"},{"offset":0.0786,"color":"rgba(240,240,40,0.5)"},{"offset":0.0786,"color":"rgba(20,20,0,0.8)"},{"offset":0.0857,"color":"rgba(20,20,0,0.8)"},
      {"offset":0.0857,"color":"rgba(240,240,40,0.5)"},{"offset":0.1071,"color":"rgba(240,240,40,0.5)"},{"offset":0.1071,"color":"rgba(20,20,0,0.8)"},{"offset":0.1143,"color":"rgba(20,20,0,0.8)"},
      {"offset":0.1143,"color":"rgba(240,240,40,0.5)"},{"offset":0.1357,"color":"rgba(240,240,40,0.5)"},{"offset":0.1357,"color":"rgba(20,20,0,0.8)"},{"offset":0.1429,"color":"rgba(20,20,0,0.8)"},
      {"offset":0.1429,"color":"rgba(240,240,40,0.5)"},{"offset":0.1643,"color":"rgba(240,240,40,0.5)"},{"offset":0.1643,"color":"rgba(20,20,0,0.8)"},{"offset":0.1714,"color":"rgba(20,20,0,0.8)"},
      {"offset":0.1714,"color":"rgba(240,240,40,0.5)"},{"offset":0.1929,"color":"rgba(240,240,40,0.5)"},{"offset":0.1929,"color":"rgba(20,20,0,0.8)"},{"offset":0.2,"color":"rgba(20,20,0,0.8)"},
      {"offset":0.2,"color":"rgba(240,240,40,0.5)"},{"offset":0.2214,"color":"rgba(240,240,40,0.5)"},{"offset":0.2214,"color":"rgba(20,20,0,0.8)"},{"offset":0.2286,"color":"rgba(20,20,0,0.8)"},
      {"offset":0.2286,"color":"rgba(240,240,40,0.5)"},{"offset":0.25,"color":"rgba(240,240,40,0.5)"},{"offset":0.25,"color":"rgba(20,20,0,0.8)"},{"offset":0.2571,"color":"rgba(20,20,0,0.8)"},
      {"offset":0.2571,"color":"rgba(240,240,40,0.5)"},{"offset":0.2786,"color":"rgba(240,240,40,0.5)"},{"offset":0.2786,"color":"rgba(20,20,0,0.8)"},{"offset":0.2857,"color":"rgba(20,20,0,0.8)"},
      {"offset":0.2857,"color":"rgba(240,240,40,0.5)"},{"offset":0.3071,"color":"rgba(240,240,40,0.5)"},{"offset":0.3071,"color":"rgba(20,20,0,0.8)"},{"offset":0.3143,"color":"rgba(20,20,0,0.8)"},
      {"offset":0.3143,"color":"rgba(240,240,40,0.5)"},{"offset":0.3357,"color":"rgba(240,240,40,0.5)"},{"offset":0.3357,"color":"rgba(20,20,0,0.8)"},{"offset":0.3429,"color":"rgba(20,20,0,0.8)"},
      {"offset":0.3429,"color":"rgba(240,240,40,0.5)"},{"offset":0.3643,"color":"rgba(240,240,40,0.5)"},{"offset":0.3643,"color":"rgba(20,20,0,0.8)"},{"offset":0.3714,"color":"rgba(20,20,0,0.8)"},
      {"offset":0.3714,"color":"rgba(240,240,40,0.5)"},{"offset":0.3929,"color":"rgba(240,240,40,0.5)"},{"offset":0.3929,"color":"rgba(20,20,0,0.8)"},{"offset":0.4,"color":"rgba(20,20,0,0.8)"},
      {"offset":0.4,"color":"rgba(240,240,40,0.5)"},{"offset":0.4214,"color":"rgba(240,240,40,0.5)"},{"offset":0.4214,"color":"rgba(20,20,0,0.8)"},{"offset":0.4286,"color":"rgba(20,20,0,0.8)"},
      {"offset":0.4286,"color":"rgba(240,240,40,0.5)"},{"offset":0.45,"color":"rgba(240,240,40,0.5)"},{"offset":0.45,"color":"rgba(20,20,0,0.8)"},{"offset":0.4571,"color":"rgba(20,20,0,0.8)"},
      {"offset":0.4571,"color":"rgba(240,240,40,0.5)"},{"offset":0.4786,"color":"rgba(240,240,40,0.5)"},{"offset":0.4786,"color":"rgba(20,20,0,0.8)"},{"offset":0.4857,"color":"rgba(20,20,0,0.8)"},
      {"offset":0.4857,"color":"rgba(240,240,40,0.5)"},{"offset":0.5071,"color":"rgba(240,240,40,0.5)"},{"offset":0.5071,"color":"rgba(20,20,0,0.8)"},{"offset":0.5143,"color":"rgba(20,20,0,0.8)"},
      {"offset":0.5143,"color":"rgba(240,240,40,0.5)"},{"offset":0.5357,"color":"rgba(240,240,40,0.5)"},{"offset":0.5357,"color":"rgba(20,20,0,0.8)"},{"offset":0.5429,"color":"rgba(20,20,0,0.8)"},
      {"offset":0.5429,"color":"rgba(240,240,40,0.5)"},{"offset":0.5643,"color":"rgba(240,240,40,0.5)"},{"offset":0.5643,"color":"rgba(20,20,0,0.8)"},{"offset":0.5714,"color":"rgba(20,20,0,0.8)"},
      {"offset":0.5714,"color":"rgba(240,240,40,0.5)"},{"offset":0.5929,"color":"rgba(240,240,40,0.5)"},{"offset":0.5929,"color":"rgba(20,20,0,0.8)"},{"offset":0.6,"color":"rgba(20,20,0,0.8)"},
      {"offset":0.6,"color":"rgba(240,240,40,0.5)"},{"offset":0.6214,"color":"rgba(240,240,40,0.5)"},{"offset":0.6214,"color":"rgba(20,20,0,0.8)"},{"offset":0.6286,"color":"rgba(20,20,0,0.8)"},
      {"offset":0.6286,"color":"rgba(240,240,40,0.5)"},{"offset":0.65,"color":"rgba(240,240,40,0.5)"},{"offset":0.65,"color":"rgba(20,20,0,0.8)"},{"offset":0.6571,"color":"rgba(20,20,0,0.8)"},
      {"offset":0.6571,"color":"rgba(240,240,40,0.5)"},{"offset":0.6786,"color":"rgba(240,240,40,0.5)"},{"offset":0.6786,"color":"rgba(20,20,0,0.8)"},{"offset":0.6857,"color":"rgba(20,20,0,0.8)"},
      {"offset":0.6857,"color":"rgba(240,240,40,0.5)"},{"offset":0.7071,"color":"rgba(240,240,40,0.5)"},{"offset":0.7071,"color":"rgba(20,20,0,0.8)"},{"offset":0.7143,"color":"rgba(20,20,0,0.8)"},
      {"offset":0.7143,"color":"rgba(240,240,40,0.5)"},{"offset":0.7357,"color":"rgba(240,240,40,0.5)"},{"offset":0.7357,"color":"rgba(20,20,0,0.8)"},{"offset":0.7429,"color":"rgba(20,20,0,0.8)"},
      {"offset":0.7429,"color":"rgba(240,240,40,0.5)"},{"offset":0.7643,"color":"rgba(240,240,40,0.5)"},{"offset":0.7643,"color":"rgba(20,20,0,0.8)"},{"offset":0.7714,"color":"rgba(20,20,0,0.8)"},
      {"offset":0.7714,"color":"rgba(240,240,40,0.5)"},{"offset":0.7929,"color":"rgba(240,240,40,0.5)"},{"offset":0.7929,"color":"rgba(20,20,0,0.8)"},{"offset":0.8,"color":"rgba(20,20,0,0.8)"},
      {"offset":0.8,"color":"rgba(240,240,40,0.5)"},{"offset":0.8214,"color":"rgba(240,240,40,0.5)"},{"offset":0.8214,"color":"rgba(20,20,0,0.8)"},{"offset":0.8286,"color":"rgba(20,20,0,0.8)"},
      {"offset":0.8286,"color":"rgba(240,240,40,0.5)"},{"offset":0.85,"color":"rgba(240,240,40,0.5)"},{"offset":0.85,"color":"rgba(20,20,0,0.8)"},{"offset":0.8571,"color":"rgba(20,20,0,0.8)"},
      {"offset":0.8571,"color":"rgba(240,240,40,0.5)"},{"offset":0.8786,"color":"rgba(240,240,40,0.5)"},{"offset":0.8786,"color":"rgba(20,20,0,0.8)"},{"offset":0.8857,"color":"rgba(20,20,0,0.8)"},
      {"offset":0.8857,"color":"rgba(240,240,40,0.5)"},{"offset":0.9071,"color":"rgba(240,240,40,0.5)"},{"offset":0.9071,"color":"rgba(20,20,0,0.8)"},{"offset":0.9143,"color":"rgba(20,20,0,0.8)"},
      {"offset":0.9143,"color":"rgba(240,240,40,0.5)"},{"offset":0.9357,"color":"rgba(240,240,40,0.5)"},{"offset":0.9357,"color":"rgba(20,20,0,0.8)"},{"offset":0.9429,"color":"rgba(20,20,0,0.8)"},
      {"offset":0.9429,"color":"rgba(240,240,40,0.5)"},{"offset":0.9643,"color":"rgba(240,240,40,0.5)"},{"offset":0.9643,"color":"rgba(20,20,0,0.8)"},{"offset":0.9714,"color":"rgba(20,20,0,0.8)"},
      {"offset":0.9714,"color":"rgba(240,240,40,0.5)"},{"offset":0.9929,"color":"rgba(240,240,40,0.5)"},{"offset":0.9929,"color":"rgba(20,20,0,0.8)"},{"offset":1,"color":"rgba(20,20,0,0.8)"}
     ]}},
     "encoding":{
      "x":{"field":"T","type":"quantitative","scale":{"domain":[0,89],"nice":false,"zero":false},"axis":null},
      "y":{"field":"B","type":"quantitative","scale":{"domain":[-0.18,22.9],"nice":false,"zero":false},"axis":null},
      "y2":{"datum":-0.18}}},
    {"data":{"name":"arr_f"},"mark":{"type":"rule","color":"black","strokeWidth":1.5},
     "encoding":{
      "x":{"field":"T","type":"quantitative","scale":{"domain":[0,89],"nice":false,"zero":false},"axis":null},
      "x2":{"field":"T2"},
      "y":{"field":"B","type":"quantitative","scale":{"domain":[-0.18,22.9],"nice":false,"zero":false},"axis":null},
      "y2":{"field":"B2"}}},
    {"data":{"name":"head_f"},"mark":{"type":"point","filled":true,"color":"black","size":80,"opacity":1,"shape":"triangle-right"},
     "encoding":{
      "x":{"field":"T","type":"quantitative","scale":{"domain":[0,89],"nice":false,"zero":false},"axis":null},
      "y":{"field":"B","type":"quantitative","scale":{"domain":[-0.18,22.9],"nice":false,"zero":false},"axis":null}}},
    {"data":{"name":"txt_f"},"mark":{"type":"text","fontSize":28},
     "encoding":{
      "x":{"field":"T","type":"quantitative","scale":{"domain":[0,89],"nice":false,"zero":false},"axis":null},
      "y":{"field":"B","type":"quantitative","scale":{"domain":[-0.18,22.9],"nice":false,"zero":false},"axis":null},
      "text":{"field":"text","type":"nominal"},
      "color":{"field":"s","type":"nominal","scale":{"domain":["r","m","g","b","k"],"range":["#ff0000","#ff00ff","#1e8c1e","#0000ff","#000000"]},"legend":null}}},
    {"data":{"name":"hf_f"},"mark":{"type":"text","fontSize":17,"angle":90,"color":"black"},
     "encoding":{
      "x":{"field":"T","type":"quantitative","scale":{"domain":[0,89],"nice":false,"zero":false},"axis":null},
      "y":{"field":"B","type":"quantitative","scale":{"domain":[-0.18,22.9],"nice":false,"zero":false},"axis":null},
      "text":{"field":"text","type":"nominal"}}}
   ],
   "resolve":{"axis":{"x":"independent","y":"independent"}}}
]
}
